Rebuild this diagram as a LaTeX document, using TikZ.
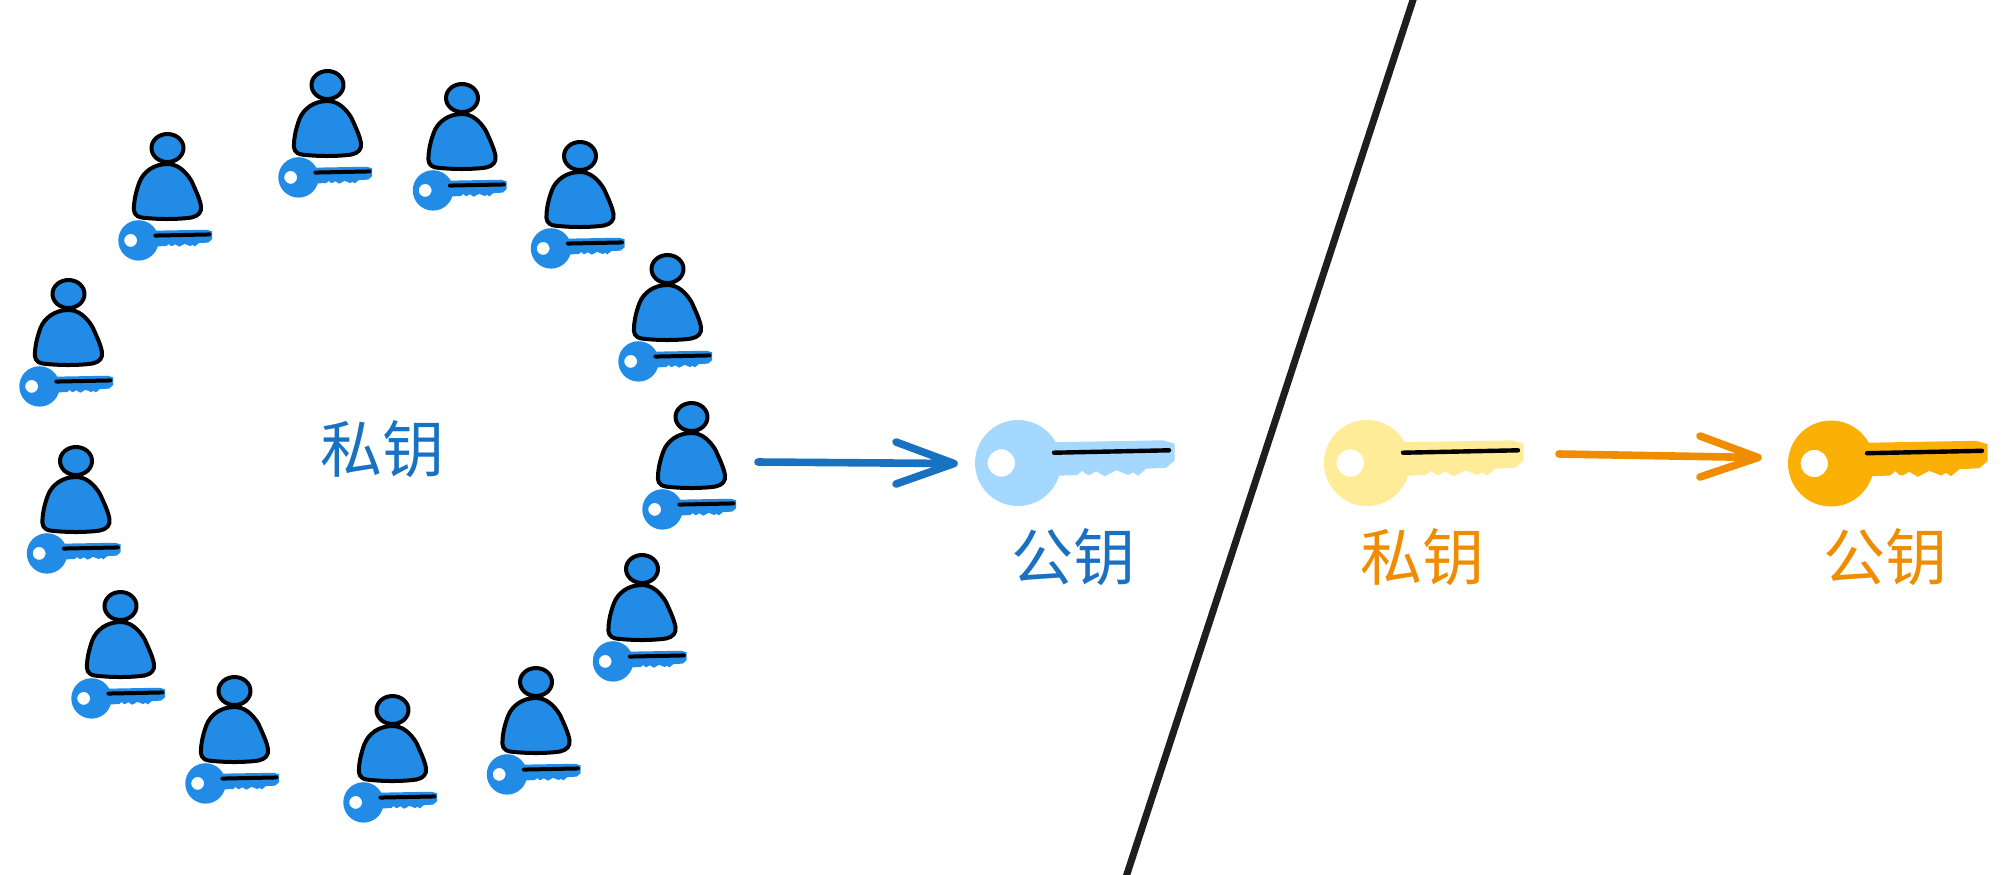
\documentclass[tikz,border=0pt]{standalone}
\usepackage{fontspec}
\newfontfamily\cjk{Noto Sans CJK SC}
\definecolor{bluetext}{HTML}{1971C2}
\definecolor{orangetext}{HTML}{F08C00}
\definecolor{keyblue}{HTML}{228BE6}
\definecolor{keylight}{HTML}{A5D8FF}
\definecolor{keyyellow}{HTML}{FFEC99}
\definecolor{keyorange}{HTML}{FAB005}
\definecolor{divider}{HTML}{1E1E1E}
\tikzset{
  labeltext/.style={font=\cjk\fontsize{31pt}{31pt}\selectfont, inner sep=0pt},
  bluearrow/.style={draw=bluetext, line width=3.8pt, line cap=round, line join=round},
  orangearrow/.style={draw=orangetext, line width=3.8pt, line cap=round, line join=round},
  outline/.style={draw=black, line width=2pt, fill=keyblue, line join=round}
}
\newcommand{\keyicon}[5]{%
  \begin{scope}[shift={(#1,#2)}, scale=#3]
    \fill[#4, even odd rule] (0,0) circle (43)  (-16.7,0) circle (13.7);
    \fill[#4] (32,-20.7) -- (145,-22.7) -- (156.7,-19.3) -- (156.7,-2.7) -- (148.3,4.7)
      -- (128.3,5.7) -- (120,12.7) -- (115,9.3) -- (110,12) -- (98.3,7.3) -- (86.7,13.3)
      -- (78.3,8.3) -- (71.7,12) -- (68.3,11.3) -- (64.3,7.7) -- (59,12) -- (40,12.7) -- cycle;
    \draw[black, line width=#5, line cap=round] (36,-10.3) -- (151,-12.7);
  \end{scope}}
\newcommand{\personkey}[2]{%
  \begin{scope}[shift={(#1,#2)}]
    \draw[outline] (0,0) ellipse (16 and 14);
    \draw[outline] (0,16) .. controls (-14,16) and (-24,24) .. (-28,34)
      .. controls (-31,42) and (-33,50) .. (-33.5,58)
      .. controls (-34,64) and (-33,68) .. (-26,69.5)
      .. controls (-10,71.5) and (10,71.5) .. (24,69.5)
      .. controls (31,68) and (34.5,64) .. (33.5,58)
      .. controls (32,50) and (28,42) .. (24,33)
      .. controls (18,23) and (10,16) .. (0,16) -- cycle;
  \end{scope}
  \keyicon{#1-29}{#2+92.4}{0.47}{keyblue}{2pt}}
\begin{document}
\begin{tikzpicture}[x=0.5pt,y=-0.5pt]
\useasboundingbox (0,0) rectangle (2006,874);
\foreach \px/\py in {167.5/148, 327.5/85, 462/98, 580/156, 667.5/269, 691.5/417, 642/569, 536/682, 392.5/710, 234.5/691, 120.5/606, 76/461, 68.5/294}{
  \personkey{\px}{\py}
}
\keyicon{1018}{463}{1}{keylight}{2.2pt}
\keyicon{1367}{463}{1}{keyyellow}{2.2pt}
\keyicon{1831}{463.5}{1}{keyorange}{2.2pt}
\node[labeltext, text=bluetext] (privA) at (382.5,449) {私钥};
\node[labeltext, text=bluetext] (pubA) at (1073,557) {公钥};
\node[labeltext, text=orangetext] (privB) at (1422.5,557) {私钥};
\node[labeltext, text=orangetext] (pubB) at (1885.5,557) {公钥};
\coordinate (a0) at (758,462); \coordinate (a1) at (954,463.5);
\coordinate (a2) at (896,442); \coordinate (a3) at (896,484);
\draw[bluearrow] (a0) -- (a1) (a2) -- (a1) -- (a3);
\coordinate (b0) at (1559,454); \coordinate (b1) at (1758,457.5);
\coordinate (b2) at (1700,436); \coordinate (b3) at (1700,477);
\draw[orangearrow] (b0) -- (b1) (b2) -- (b1) -- (b3);
\coordinate (d0) at (1414,-3); \coordinate (d1) at (1126,877);
\draw[draw=divider, line width=3.5pt] (d0) -- (d1);
\end{tikzpicture}
\end{document}
